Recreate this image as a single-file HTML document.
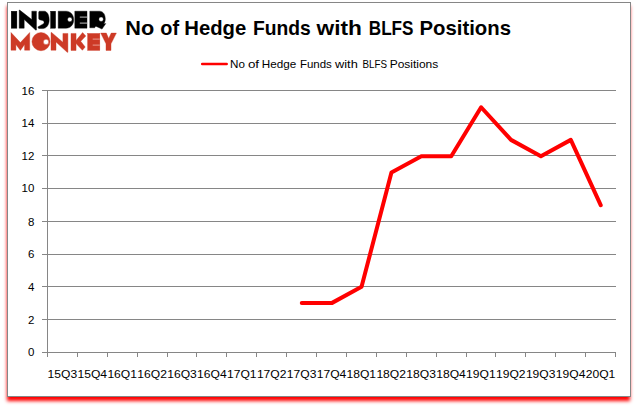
<!DOCTYPE html>
<html><head><meta charset="utf-8"><title>chart</title>
<style>
html,body{margin:0;padding:0;background:#fff;}
body{width:637px;height:408px;position:relative;overflow:hidden;font-family:"Liberation Sans",sans-serif;}
#box{position:absolute;left:7px;top:2px;width:622px;height:393px;border:1px solid #868686;background:#fff;}
#shadow{position:absolute;left:7px;top:2px;width:623.2px;height:395px;box-shadow:0 4px 3.5px #ff0000;}
svg{position:absolute;left:0;top:0;}
.ax{font-family:"Liberation Sans",sans-serif;font-size:11.5px;fill:#000;}
.lg{font-family:"Liberation Sans",sans-serif;font-size:11.5px;fill:#000;}
.ti{font-family:"Liberation Sans",sans-serif;font-size:21px;font-weight:bold;fill:#000;}
</style></head><body>
<div id="shadow"></div><div id="box"></div>
<svg width="637" height="408" viewBox="0 0 637 408">
<line x1="42" y1="352.5" x2="616" y2="352.5" stroke="#868686" stroke-width="1"/>
<text x="34.3" y="355.7" text-anchor="end" class="ax">0</text>
<line x1="42" y1="319.5" x2="616" y2="319.5" stroke="#868686" stroke-width="1"/>
<text x="34.3" y="323.7" text-anchor="end" class="ax">2</text>
<line x1="42" y1="286.5" x2="616" y2="286.5" stroke="#868686" stroke-width="1"/>
<text x="34.3" y="290.7" text-anchor="end" class="ax">4</text>
<line x1="42" y1="254.5" x2="616" y2="254.5" stroke="#868686" stroke-width="1"/>
<text x="34.3" y="257.7" text-anchor="end" class="ax">6</text>
<line x1="42" y1="221.5" x2="616" y2="221.5" stroke="#868686" stroke-width="1"/>
<text x="34.3" y="225.7" text-anchor="end" class="ax">8</text>
<line x1="42" y1="188.5" x2="616" y2="188.5" stroke="#868686" stroke-width="1"/>
<text x="34.3" y="191.7" text-anchor="end" class="ax">10</text>
<line x1="42" y1="155.5" x2="616" y2="155.5" stroke="#868686" stroke-width="1"/>
<text x="34.3" y="159.7" text-anchor="end" class="ax">12</text>
<line x1="42" y1="123.5" x2="616" y2="123.5" stroke="#868686" stroke-width="1"/>
<text x="34.3" y="126.7" text-anchor="end" class="ax">14</text>
<line x1="42" y1="90.5" x2="616" y2="90.5" stroke="#868686" stroke-width="1"/>
<text x="34.3" y="94.7" text-anchor="end" class="ax">16</text>
<line x1="47.5" y1="90.5" x2="47.5" y2="352.5" stroke="#868686" stroke-width="1"/>
<line x1="47.5" y1="352.5" x2="47.5" y2="357.0" stroke="#868686" stroke-width="1"/>
<line x1="77.5" y1="352.5" x2="77.5" y2="357.0" stroke="#868686" stroke-width="1"/>
<line x1="107.5" y1="352.5" x2="107.5" y2="357.0" stroke="#868686" stroke-width="1"/>
<line x1="137.5" y1="352.5" x2="137.5" y2="357.0" stroke="#868686" stroke-width="1"/>
<line x1="167.5" y1="352.5" x2="167.5" y2="357.0" stroke="#868686" stroke-width="1"/>
<line x1="196.5" y1="352.5" x2="196.5" y2="357.0" stroke="#868686" stroke-width="1"/>
<line x1="226.5" y1="352.5" x2="226.5" y2="357.0" stroke="#868686" stroke-width="1"/>
<line x1="256.5" y1="352.5" x2="256.5" y2="357.0" stroke="#868686" stroke-width="1"/>
<line x1="286.5" y1="352.5" x2="286.5" y2="357.0" stroke="#868686" stroke-width="1"/>
<line x1="316.5" y1="352.5" x2="316.5" y2="357.0" stroke="#868686" stroke-width="1"/>
<line x1="346.5" y1="352.5" x2="346.5" y2="357.0" stroke="#868686" stroke-width="1"/>
<line x1="376.5" y1="352.5" x2="376.5" y2="357.0" stroke="#868686" stroke-width="1"/>
<line x1="406.5" y1="352.5" x2="406.5" y2="357.0" stroke="#868686" stroke-width="1"/>
<line x1="436.5" y1="352.5" x2="436.5" y2="357.0" stroke="#868686" stroke-width="1"/>
<line x1="466.5" y1="352.5" x2="466.5" y2="357.0" stroke="#868686" stroke-width="1"/>
<line x1="495.5" y1="352.5" x2="495.5" y2="357.0" stroke="#868686" stroke-width="1"/>
<line x1="525.5" y1="352.5" x2="525.5" y2="357.0" stroke="#868686" stroke-width="1"/>
<line x1="555.5" y1="352.5" x2="555.5" y2="357.0" stroke="#868686" stroke-width="1"/>
<line x1="585.5" y1="352.5" x2="585.5" y2="357.0" stroke="#868686" stroke-width="1"/>
<line x1="615.5" y1="352.5" x2="615.5" y2="357.0" stroke="#868686" stroke-width="1"/>
<text x="47.6" y="377.5" class="ax" style="font-size:11.2px" textLength="29.6" lengthAdjust="spacingAndGlyphs">15Q3</text>
<text x="77.5" y="377.5" class="ax" style="font-size:11.2px" textLength="29.6" lengthAdjust="spacingAndGlyphs">15Q4</text>
<text x="107.4" y="377.5" class="ax" style="font-size:11.2px" textLength="29.6" lengthAdjust="spacingAndGlyphs">16Q1</text>
<text x="137.3" y="377.5" class="ax" style="font-size:11.2px" textLength="29.6" lengthAdjust="spacingAndGlyphs">16Q2</text>
<text x="167.2" y="377.5" class="ax" style="font-size:11.2px" textLength="29.6" lengthAdjust="spacingAndGlyphs">16Q3</text>
<text x="197.1" y="377.5" class="ax" style="font-size:11.2px" textLength="29.6" lengthAdjust="spacingAndGlyphs">16Q4</text>
<text x="227.0" y="377.5" class="ax" style="font-size:11.2px" textLength="29.6" lengthAdjust="spacingAndGlyphs">17Q1</text>
<text x="256.9" y="377.5" class="ax" style="font-size:11.2px" textLength="29.6" lengthAdjust="spacingAndGlyphs">17Q2</text>
<text x="286.8" y="377.5" class="ax" style="font-size:11.2px" textLength="29.6" lengthAdjust="spacingAndGlyphs">17Q3</text>
<text x="316.7" y="377.5" class="ax" style="font-size:11.2px" textLength="29.6" lengthAdjust="spacingAndGlyphs">17Q4</text>
<text x="346.5" y="377.5" class="ax" style="font-size:11.2px" textLength="29.6" lengthAdjust="spacingAndGlyphs">18Q1</text>
<text x="376.4" y="377.5" class="ax" style="font-size:11.2px" textLength="29.6" lengthAdjust="spacingAndGlyphs">18Q2</text>
<text x="406.3" y="377.5" class="ax" style="font-size:11.2px" textLength="29.6" lengthAdjust="spacingAndGlyphs">18Q3</text>
<text x="436.2" y="377.5" class="ax" style="font-size:11.2px" textLength="29.6" lengthAdjust="spacingAndGlyphs">18Q4</text>
<text x="466.1" y="377.5" class="ax" style="font-size:11.2px" textLength="29.6" lengthAdjust="spacingAndGlyphs">19Q1</text>
<text x="496.0" y="377.5" class="ax" style="font-size:11.2px" textLength="29.6" lengthAdjust="spacingAndGlyphs">19Q2</text>
<text x="525.9" y="377.5" class="ax" style="font-size:11.2px" textLength="29.6" lengthAdjust="spacingAndGlyphs">19Q3</text>
<text x="555.8" y="377.5" class="ax" style="font-size:11.2px" textLength="29.6" lengthAdjust="spacingAndGlyphs">19Q4</text>
<text x="585.7" y="377.5" class="ax" style="font-size:11.2px" textLength="29.6" lengthAdjust="spacingAndGlyphs">20Q1</text>
<polyline points="301.76,303.12 331.65,303.12 361.54,286.80 391.44,172.53 421.33,156.20 451.23,156.20 481.12,107.23 511.02,139.88 540.91,156.20 570.81,139.88 600.70,205.18" fill="none" stroke="#ff0000" stroke-width="4" stroke-linecap="round" stroke-linejoin="round"/>
<line x1="202.2" y1="63.9" x2="226.7" y2="63.9" stroke="#ff0000" stroke-width="2.5" stroke-linecap="round"/>
<text x="230.09" y="67.9" class="lg" textLength="14.87" lengthAdjust="spacingAndGlyphs">No</text>
<text x="247.92" y="67.9" class="lg" textLength="11.19" lengthAdjust="spacingAndGlyphs">of</text>
<text x="261.78" y="67.9" class="lg" textLength="34.41" lengthAdjust="spacingAndGlyphs">Hedge</text>
<text x="299.90" y="67.9" class="lg" textLength="31.97" lengthAdjust="spacingAndGlyphs">Funds</text>
<text x="335.00" y="67.9" class="lg" textLength="22.78" lengthAdjust="spacingAndGlyphs">with</text>
<text x="362.45" y="67.9" class="lg" textLength="24.49" lengthAdjust="spacingAndGlyphs">BLFS</text>
<text x="389.66" y="67.9" class="lg" textLength="48.58" lengthAdjust="spacingAndGlyphs">Positions</text>
<text x="125.25" y="34.6" class="ti" textLength="28.92" lengthAdjust="spacingAndGlyphs">No</text>
<text x="160.29" y="34.6" class="ti" textLength="18.78" lengthAdjust="spacingAndGlyphs">of</text>
<text x="184.35" y="34.6" class="ti" textLength="61.91" lengthAdjust="spacingAndGlyphs">Hedge</text>
<text x="252.92" y="34.6" class="ti" textLength="57.79" lengthAdjust="spacingAndGlyphs">Funds</text>
<text x="316.60" y="34.6" class="ti" textLength="45.35" lengthAdjust="spacingAndGlyphs">with</text>
<text x="368.78" y="34.6" class="ti" textLength="44.70" lengthAdjust="spacingAndGlyphs">BLFS</text>
<text x="419.55" y="34.6" class="ti" textLength="91.43" lengthAdjust="spacingAndGlyphs">Positions</text>
<g id="logo">
<g fill="#000000" stroke="#000000" stroke-width="0.4" stroke-linejoin="miter">
<rect x="11.2" y="11.2" width="5.7" height="17"/>
<path d="M19.2,10.1 L19.7,10.1 L31.8,19.6 L31.8,11.2 L36.45,11.2 L36.45,30.1 L35.6,30.1 L24.2,19.6 L24.2,28.2 L19.2,28.2 Z"/>
<path d="M39.8,11.2 L44.5,11.2 C47.6,11.6 49.2,15.5 49.2,19.8 C49.2,24.6 46.6,28.6 42.8,28.6 L38.7,28.5 L37.8,26.9 L43.2,23.9 C43.8,23.5 44.1,22.9 44.1,22.3 C44.1,21.4 43.5,20.8 42.6,20.5 L39.8,19.8 C39.1,19.6 38.7,19.2 38.7,18.5 L38.7,12.3 C38.7,11.6 39.1,11.2 39.8,11.2 Z"/>
<rect x="50.6" y="11.2" width="5" height="17"/>
<path fill-rule="evenodd" d="M58.2,11.2 L66,11.2 C70.8,11.2 73.7,15 73.7,19.7 C73.7,24.4 70.8,28.2 66,28.2 L58.2,28.2 Z M72.1,19.5 A2.3,2.3 0 1 0 67.5,19.5 A2.3,2.3 0 1 0 72.1,19.5 Z"/>
<path d="M74.8,11.2 L87,11.2 L87,28.2 L74.8,28.2 Z"/>
<path fill-rule="evenodd" d="M89.8,11.2 L99.5,11.2 C103.5,11.2 105.3,15 105.3,19 C105.3,21 104.6,22.8 103.6,23.8 L105.8,23.6 L102,29.1 L96.4,26.5 C95.5,26.2 94.9,26.5 94.9,27.0 L94.8,27.8 L89.8,27.8 Z M103.4,19.2 A2.3,2.3 0 1 0 98.8,19.2 A2.3,2.3 0 1 0 103.4,19.2 Z"/>
</g>
<g stroke="#d8d8d8" stroke-width="0.9">
<line x1="79.8" y1="17.1" x2="87" y2="17.1"/>
<line x1="79.8" y1="23.1" x2="87" y2="23.1"/>
</g>
<g fill="#cd3a26" stroke="#cd3a26" stroke-width="0.4" stroke-linejoin="miter">
<path d="M11,32.5 L20.4,42.6 L29.7,32.5 L29.7,50.2 L24.6,50.2 L24.6,44.5 L20.4,50.4 L15.9,44.5 L15.9,50.2 L11,50.2 Z"/>
<path fill-rule="evenodd" d="M50.1,41.6 A9.1,9.1 0 1 0 31.9,41.6 A9.1,9.1 0 1 0 50.1,41.6 Z M48.7,41.9 A2.65,2.65 0 1 0 43.4,41.9 A2.65,2.65 0 1 0 48.7,41.9 Z"/>
<path d="M51,32.5 L51.6,32.5 L62.9,42.2 L62.9,33.45 L67.9,33.45 L67.9,52.3 L67.2,52.3 L56,42 L56,50.2 L51,50.2 Z"/>
<path d="M71,33.45 L76.05,33.45 L76.05,40.5 L82.6,32.6 L85.8,36 L80.75,41.3 L85.2,47 L82.4,50.3 L76.05,43.5 L76.05,50.4 L71,50.4 Z"/>
<rect x="87.65" y="33.45" width="12.2" height="16.95"/>
<path d="M100.7,33.1 L106.3,33.1 L108.7,38.5 L111.2,33.1 L116.4,33.1 L111,43.8 L111,50.4 L106,50.4 L106,43.8 Z"/>
</g>
<g stroke="#eda59b" stroke-width="0.9">
<line x1="92.7" y1="39.1" x2="99.85" y2="39.1"/>
<line x1="92.7" y1="45.1" x2="99.85" y2="45.1"/>
</g>
</g>

</svg>
</body></html>
